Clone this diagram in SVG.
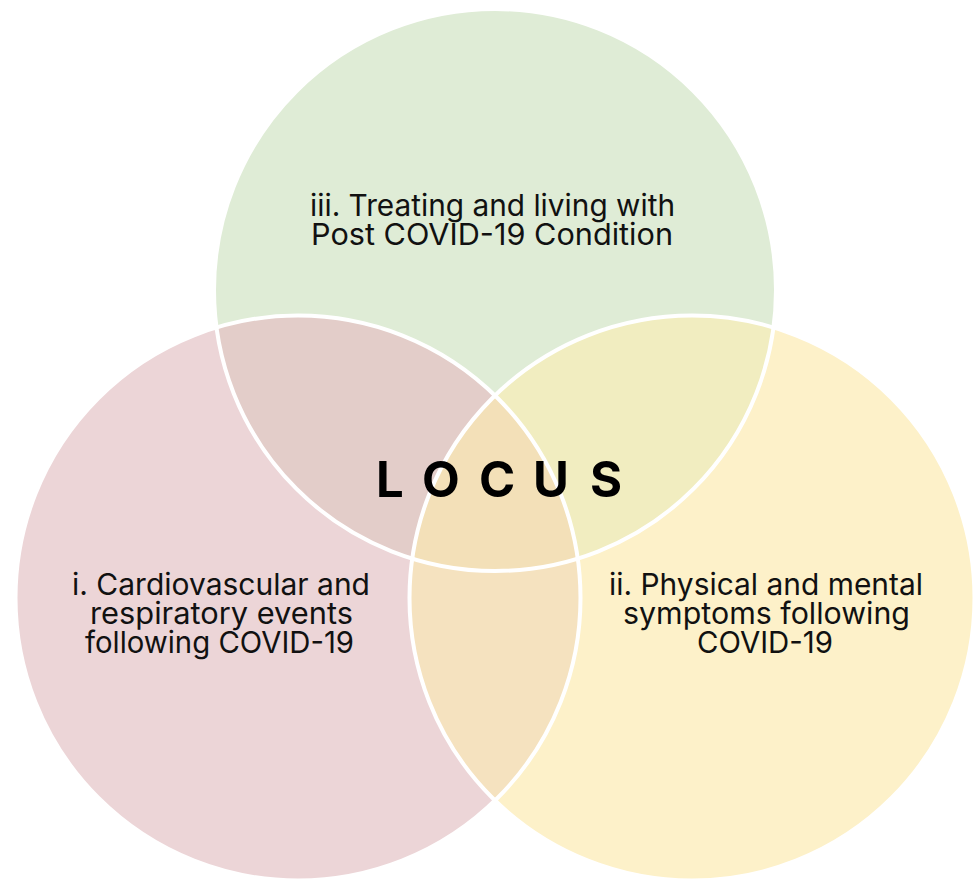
<svg xmlns="http://www.w3.org/2000/svg" width="975" height="880" viewBox="0 0 975 880">
<style>
.lbl{font-family:Inter,"DejaVu Sans",sans-serif;font-size:30px;fill:#111;}
.title{font-family:Inter,"DejaVu Sans",sans-serif;font-size:49px;font-weight:700;fill:#000;}
.ring{fill:none;stroke:#fff;stroke-width:4;}
</style>
<defs>
<clipPath id="cP"><circle cx="298" cy="598" r="282.5"/></clipPath>
<clipPath id="cY"><circle cx="692" cy="598" r="282.5"/></clipPath>
<clipPath id="cG"><circle cx="495" cy="290" r="281"/></clipPath>
</defs>
<rect width="975" height="880" fill="#fff"/>
<g id="node-pink">
<circle cx="298" cy="598" r="282.5" fill="#ecd5d7"/>
</g>
<g id="node-yellow">
<circle cx="692" cy="598" r="282.5" fill="#fdf1c9"/>
</g>
<g id="node-green">
<circle cx="495" cy="290" r="281" fill="#dfecd6"/>
</g>
<g id="overlaps">
<circle cx="495" cy="290" r="281" fill="#e3cdc9" clip-path="url(#cP)"/>
<circle cx="495" cy="290" r="281" fill="#f1edc0" clip-path="url(#cY)"/>
<circle cx="692" cy="598" r="282.5" fill="#f5e2bf" clip-path="url(#cP)"/>
<g clip-path="url(#cG)">
<circle cx="692" cy="598" r="282.5" fill="#f3e0b8" clip-path="url(#cP)"/>
</g>
</g>
<g id="outlines">
<circle class="ring" cx="298" cy="598" r="282.5"/>
<circle class="ring" cx="692" cy="598" r="282.5"/>
<circle class="ring" cx="495" cy="290" r="281"/>
</g>
<g id="label-green">
<text class="lbl" x="310" y="216" textLength="365" lengthAdjust="spacingAndGlyphs">iii. Treating and living with</text>
<text class="lbl" x="311" y="245" textLength="362" lengthAdjust="spacingAndGlyphs">Post COVID-19 Condition</text>
</g>
<g id="label-pink">
<text class="lbl" x="72" y="595" textLength="298" lengthAdjust="spacingAndGlyphs">i. Cardiovascular and</text>
<text class="lbl" x="90" y="624" textLength="263" lengthAdjust="spacingAndGlyphs">respiratory events</text>
<text class="lbl" x="85" y="653" textLength="269" lengthAdjust="spacingAndGlyphs">following COVID-19</text>
</g>
<g id="label-yellow">
<text class="lbl" x="609" y="595" textLength="314" lengthAdjust="spacingAndGlyphs">ii. Physical and mental</text>
<text class="lbl" x="623" y="624" textLength="287" lengthAdjust="spacingAndGlyphs">symptoms following</text>
<text class="lbl" x="697" y="653" textLength="136" lengthAdjust="spacingAndGlyphs">COVID-19</text>
</g>
<g id="center-title">
<text class="title" x="376 422 479 533 590" y="497">LOCUS</text>
</g>
</svg>
